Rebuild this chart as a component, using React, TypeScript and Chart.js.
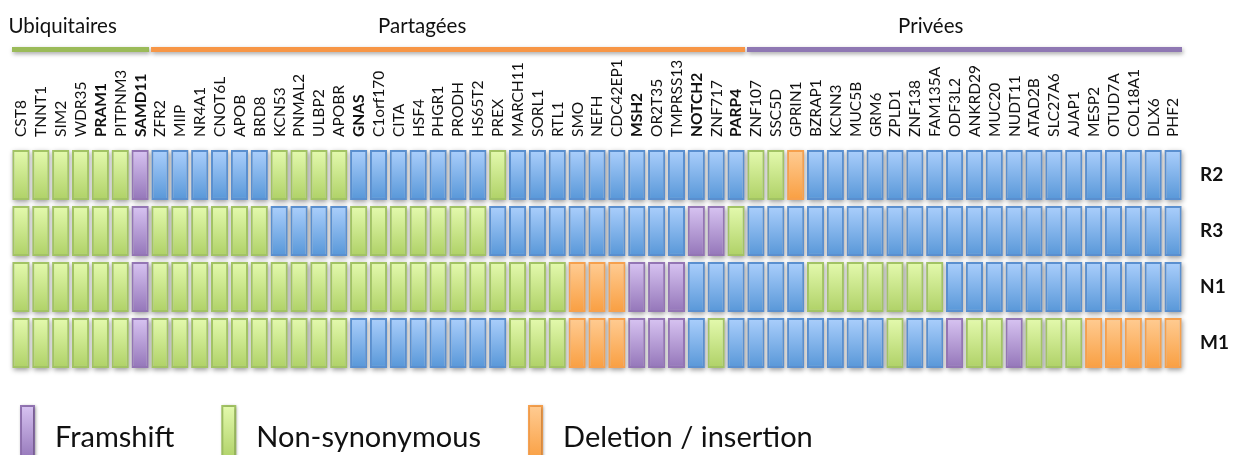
import React, { useEffect, useRef } from "react";
import { Chart, registerables } from "chart.js";

Chart.register(...registerables);

const genes = [
  "CST8", "TNNT1", "SIM2", "WDR35", "PRAM1", "PITPNM3", "SAMD11",
  "ZFR2", "MIIP", "NR4A1", "CNOT6L", "APOB", "BRD8", "KCN53", "PNMAL2", "ULBP2", "APOBR",
  "GNAS", "C1orf170", "CITA", "HSF4", "PHGR1", "PRODH", "HS65T2", "PREX", "MARCH11", "SORL1",
  "RTL1", "SMO", "NEFH", "CDC42EP1", "MSH2", "OR2T35", "TMPRSS13", "NOTCH2", "ZNF717", "PARP4",
  "ZNF107", "SSC5D", "GPRIN1", "BZRAP1", "KCNN3", "MUC5B", "GRM6", "ZPLD1", "ZNF138", "FAM135A",
  "ODF3L2", "ANKRD29", "MUC20", "NUDT11", "ATAD2B", "SLC27A6", "AJAP1", "MESP2", "OTUD7A",
  "COL18A1", "DLX6", "PHF2",
];
const boldGenes = ["PRAM1", "SAMD11", "GNAS", "MSH2", "NOTCH2", "PARP4"];

const rowNames = ["R2", "R3", "N1", "M1"];
// B = no mutation (blue), G = non-synonymous, P = frameshift, O = deletion / insertion
const rowR2 = "GGGGGGPBBBBBBGGGGBBBBBBBGBBBBBBBBBBBBGGOBBBBBBBBBBBBBBBBBBB".split("");
const rowR3 = "GGGGGGPGGGGGGBBBBGGGGGGGBBBBBBBBBBPPGBBBBBBBBBBBBBBBBBBBBBB".split("");
const rowN1 = "GGGGGGPGGGGGGGGGGGGGGGGGGGGGOOOPPPBBBBBBGGGGGGGBBBBBBBBBBBB".split("");
const rowM1 = "GGGGGGPGGGGGGGGGGBBBBBBBBGGGOOOPPPBGBBBBBBBBGBBPGGPGGGOOOOO".split("");
const rows = [rowR2, rowR3, rowN1, rowM1];

const groupNames = ["Ubiquitaires", "Partagées", "Privées"];
const groupFirst = [0, 7, 37];
const groupLast = [6, 36, 58];
const groupLabelAt = [2.1, 20.2, 45.8];
const groupColors = ["#9bbb59", "#f79646", "#8f78b3"];

const legendCodes = ["P", "G", "O"];
const legendLabels = ["Framshift", "Non-synonymous", "Deletion / insertion"];

const palette: Record<string, { top: string; bottom: string; border: string }> = {
  B: { top: "#abcffc", bottom: "#5897d8", border: "#5a8fcf" },
  G: { top: "#e4faae", bottom: "#afd167", border: "#a2c364" },
  P: { top: "#d8c4f2", bottom: "#9476b9", border: "#9375b4" },
  O: { top: "#ffcc93", bottom: "#f99f42", border: "#f6a04d" },
};

const HALF = 0.445;
const FONT = "Lato, 'Open Sans', sans-serif";

function fillCell(ctx: CanvasRenderingContext2D, code: string, x: number, y: number, w: number, h: number) {
  const p = palette[code];
  const g = ctx.createLinearGradient(0, y, 0, y + h);
  g.addColorStop(0, p.top);
  g.addColorStop(1, p.bottom);
  ctx.fillStyle = p.border;
  ctx.fillRect(x, y, w, h);
  ctx.fillStyle = g;
  ctx.fillRect(x + 2, y + 2, w - 4, h - 4);
}

const shadowPlugin = {
  id: "cellShadow",
  beforeDatasetsDraw(chart: any) {
    const ctx = chart.ctx;
    ctx.save();
    ctx.shadowColor = "rgba(0,0,0,0.4)";
    ctx.shadowBlur = 5;
    ctx.shadowOffsetX = 1;
    ctx.shadowOffsetY = 2;
    ctx.fillStyle = "#c8c8c8";
    chart.data.datasets.forEach((_: any, i: number) => {
      const meta = chart.getDatasetMeta(i);
      meta.data.forEach((el: any) => {
        const top = Math.min(el.y, el.base);
        const h = Math.abs(el.base - el.y);
        ctx.fillRect(el.x - el.width / 2, top, el.width, h);
      });
    });
    ctx.restore();
  },
};

const decorPlugin = {
  id: "decor",
  afterDraw(chart: any) {
    const ctx: CanvasRenderingContext2D = chart.ctx;
    const xs = chart.scales.x;
    const step = xs.getPixelForValue(1) - xs.getPixelForValue(0);
    const half = step / 2;
    // group headers
    groupNames.forEach((name, i) => {
      const x1 = xs.getPixelForValue(groupFirst[i]) - half + 1;
      const x2 = xs.getPixelForValue(groupLast[i]) + half - 1;
      ctx.save();
      ctx.shadowColor = "rgba(0,0,0,0.35)";
      ctx.shadowBlur = 4;
      ctx.shadowOffsetX = 1;
      ctx.shadowOffsetY = 2;
      ctx.fillStyle = groupColors[i];
      ctx.fillRect(x1, 47, x2 - x1, 5);
      ctx.restore();
      ctx.save();
      ctx.fillStyle = "#111";
      ctx.font = `20.5px ${FONT}`;
      ctx.textAlign = "center";
      ctx.textBaseline = "alphabetic";
      const lx = xs.getPixelForValue(0) + step * groupLabelAt[i];
      ctx.fillText(name, lx, 33);
      ctx.restore();
    });
    // legend
    let x = 20;
    legendLabels.forEach((label, i) => {
      ctx.save();
      ctx.shadowColor = "rgba(0,0,0,0.3)";
      ctx.shadowBlur = 3;
      ctx.shadowOffsetX = 1;
      ctx.shadowOffsetY = 1;
      fillCell(ctx, legendCodes[i], x, 405, 15, 55);
      ctx.restore();
      ctx.save();
      ctx.fillStyle = "#111";
      ctx.font = `29px ${FONT}`;
      ctx.textBaseline = "alphabetic";
      ctx.fillText(label, x + 35, 447);
      const w = ctx.measureText(label).width;
      ctx.restore();
      x += 35 + w + 47;
    });
  },
};

const gradCache: Record<string, CanvasGradient> = {};

export default function App() {
  const ref = useRef<HTMLCanvasElement>(null);
  useEffect(() => {
    if (!ref.current) return;
    document.body.style.margin = "0";
    const datasets = rows.map((codes, k) => ({
      label: rowNames[k],
      data: genes.map(() => [k - HALF, k + HALF]),
      backgroundColor: (c: any) => {
        const code = codes[c.dataIndex] || "B";
        const chart = c.chart;
        if (!chart.chartArea) return palette[code].bottom;
        const ys = chart.scales.y;
        const t = ys.getPixelForValue(k - HALF);
        const b = ys.getPixelForValue(k + HALF);
        const key = `${k}-${code}-${Math.round(t)}-${Math.round(b)}`;
        if (!gradCache[key]) {
          const g = chart.ctx.createLinearGradient(0, Math.min(t, b), 0, Math.max(t, b));
          g.addColorStop(0, palette[code].top);
          g.addColorStop(1, palette[code].bottom);
          gradCache[key] = g;
        }
        return gradCache[key];
      },
      borderColor: codes.map((c) => palette[c].border),
      borderWidth: 2,
      borderSkipped: false,
      barPercentage: 1,
      categoryPercentage: 0.86,
    }));
    const chart = new Chart(ref.current, {
      type: "bar",
      data: { labels: genes, datasets },
      options: {
        animation: false,
        responsive: true,
        maintainAspectRatio: false,
        layout: { padding: { left: 11, right: 0, top: 57, bottom: 84 } },
        plugins: { legend: { display: false }, tooltip: { enabled: false } },
        scales: {
          x: {
            type: "category",
            position: "top",
            stacked: true,
            offset: true,
            grid: { display: false, drawTicks: false },
            border: { display: false },
            afterFit: (s: any) => {
              s.height = 90;
              s.paddingLeft = 0;
              s.paddingRight = 0;
            },
            ticks: {
              autoSkip: false,
              maxRotation: 90,
              minRotation: 90,
              padding: 10,
              labelOffset: 19,
              color: "#111",
              font: (c: any) => ({
                family: FONT,
                size: 15.5,
                weight: boldGenes.includes(genes[c.index]) ? "bold" : "normal",
              }),
            },
          },
          y: {
            type: "linear",
            position: "right",
            stacked: false,
            reverse: true,
            min: -0.5,
            max: 3.5,
            grid: { display: false, drawTicks: false },
            border: { display: false },
            afterBuildTicks: (s: any) => { s.ticks = rowNames.map((_, i) => ({ value: i })); },
            afterFit: (s: any) => { s.width = 56; s.paddingTop = 0; s.paddingBottom = 0; },
            ticks: {
              padding: 17,
              color: "#111",
              font: { family: FONT, size: 19, weight: "bold" },
              callback: (v: any) => rowNames[v as number] ?? "",
            },
          },
        },
      },
      plugins: [shadowPlugin, decorPlugin],
    });
    return () => chart.destroy();
  }, []);
  return (
    <div style={{ position: "fixed", left: 0, top: 0, width: 1239, height: 455 }}>
      <canvas ref={ref} />
    </div>
  );
}
